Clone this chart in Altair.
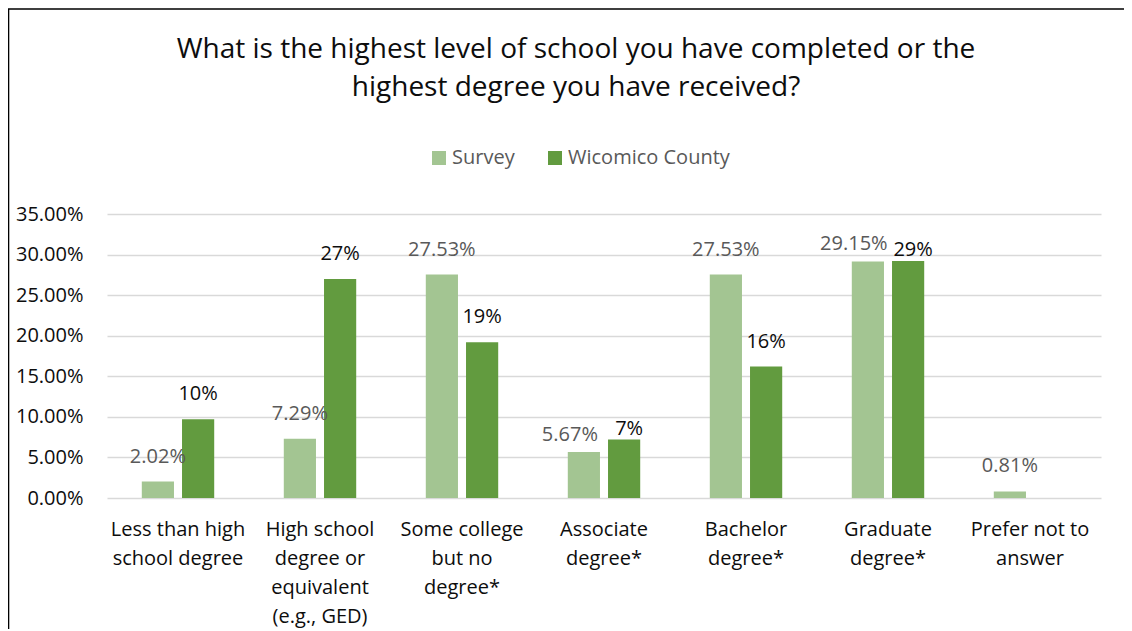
import altair as alt
import pandas as pd

categories = [
    "Less than high|school degree",
    "High school|degree or|equivalent|(e.g., GED)",
    "Some college|but no|degree*",
    "Associate|degree*",
    "Bachelor|degree*",
    "Graduate|degree*",
    "Prefer not to|answer",
]
series = ["Survey", "Wicomico County"]
survey_values = [0.0202, 0.0729, 0.2753, 0.0567, 0.2753, 0.2915, 0.0081]
county_values = [0.097, 0.270, 0.192, 0.072, 0.162, 0.292, None]
y_ticks = [0.0, 0.05, 0.10, 0.15, 0.20, 0.25, 0.30, 0.35]
colors = ["#A3C592", "#629B3F"]
title_lines = [
    "What is the highest level of school you have completed or the",
    "highest degree you have received?",
]

FONT = "Open Sans"

rows = []
for cat, s, w in zip(categories, survey_values, county_values):
    rows.append({"category": cat, "series": series[0], "value": s})
    if w is not None:
        rows.append({"category": cat, "series": series[1], "value": w})
df = pd.DataFrame(rows)

x_enc = alt.X(
    "category:N",
    sort=categories,
    scale=alt.Scale(paddingInner=0.49, paddingOuter=0.245),
    axis=alt.Axis(
        title=None,
        labelAngle=0,
        labelExpr="split(datum.label, '|')",
        labelFont=FONT,
        labelFontSize=20,
        labelColor="#0d0d0d",
        labelLineHeight=29,
        labelPadding=21,
        labelBaseline="top",
        ticks=False,
        domain=False,
        grid=False,
        labelLimit=300,
    ),
)
xoff_enc = alt.XOffset(
    "series:N", sort=series, scale=alt.Scale(paddingInner=0.2, paddingOuter=0)
)
y_enc = alt.Y(
    "value:Q",
    scale=alt.Scale(domain=[0, 0.35], nice=False),
    axis=alt.Axis(
        title=None,
        values=y_ticks,
        format=".2%",
        labelFont=FONT,
        labelFontSize=20,
        labelColor="#0d0d0d",
        labelPadding=24,
        ticks=False,
        domain=False,
        grid=True,
        gridColor="#D9D9D9",
        gridWidth=1.3,
    ),
)

base = alt.Chart(df).transform_joinaggregate(
    vmin="min(value)", vmax="max(value)", n="count()", groupby=["category"]
).transform_calculate(
    close="datum.n == 2 && (datum.vmax - datum.vmin) < 0.02 ? 1 : 0"
)

bars = base.mark_bar().encode(
    x=x_enc,
    xOffset=xoff_enc,
    y=y_enc,
    color=alt.Color(
        "series:N",
        sort=series,
        scale=alt.Scale(domain=series, range=colors),
        legend=alt.Legend(
            orient="none",
            legendX=322,
            legendY=-66,
            direction="horizontal",
            title=None,
            symbolType="square",
            symbolSize=196,
            symbolStrokeWidth=0,
            labelFont=FONT,
            labelFontSize=20,
            labelColor="#595959",
            labelOffset=3,
            labelLimit=400,
            columnPadding=30,
            padding=0,
        ),
    ),
)

survey_text = (
    base.transform_filter(alt.datum.series == series[0])
    .mark_text(
        dx=alt.expr("datum.close == 1 ? -14 : 0"),
        dy=alt.expr("datum.close == 1 ? -17 : -25"),
        baseline="middle",
        font=FONT,
        fontSize=20,
        color="#595959",
    )
    .encode(
        x=x_enc,
        xOffset=xoff_enc,
        y=y_enc,
        text=alt.Text("value:Q", format=".2%"),
    )
)
county_text = (
    base.transform_filter(alt.datum.series == series[1])
    .mark_text(
        dx=alt.expr("datum.close == 1 ? 5 : 0"),
        dy=alt.expr("datum.close == 1 ? -11 : -25"),
        baseline="middle",
        font=FONT,
        fontSize=20,
        color="#0d0d0d",
    )
    .encode(
        x=x_enc,
        xOffset=xoff_enc,
        y=y_enc,
        text=alt.Text("value:Q", format=".0%"),
    )
)

border = alt.Chart(pd.DataFrame({"k": [0]})).mark_rect(
    fillOpacity=0, stroke="#000000", strokeWidth=1.6
).encode(
    x=alt.value(-98.5), x2=alt.value(1300), y=alt.value(-205), y2=alt.value(800)
)

chart = (
    alt.layer(border, bars, survey_text, county_text)
    .properties(
        width=994,
        height=284,
        autosize=alt.AutoSizeParams(type="none"),
        padding={"left": 99, "top": 206, "right": 23, "bottom": 131},
        title=alt.TitleParams(
            text=title_lines,
            font=FONT,
            fontSize=28,
            fontWeight="normal",
            color="#0d0d0d",
            anchor="middle",
            frame="group",
            dx=-28,
            offset=-94,
            lineHeight=38,
        ),
    )
    .configure_view(strokeWidth=0)
)

chart.save("out.html", embed_options={"renderer": "svg", "actions": False})
